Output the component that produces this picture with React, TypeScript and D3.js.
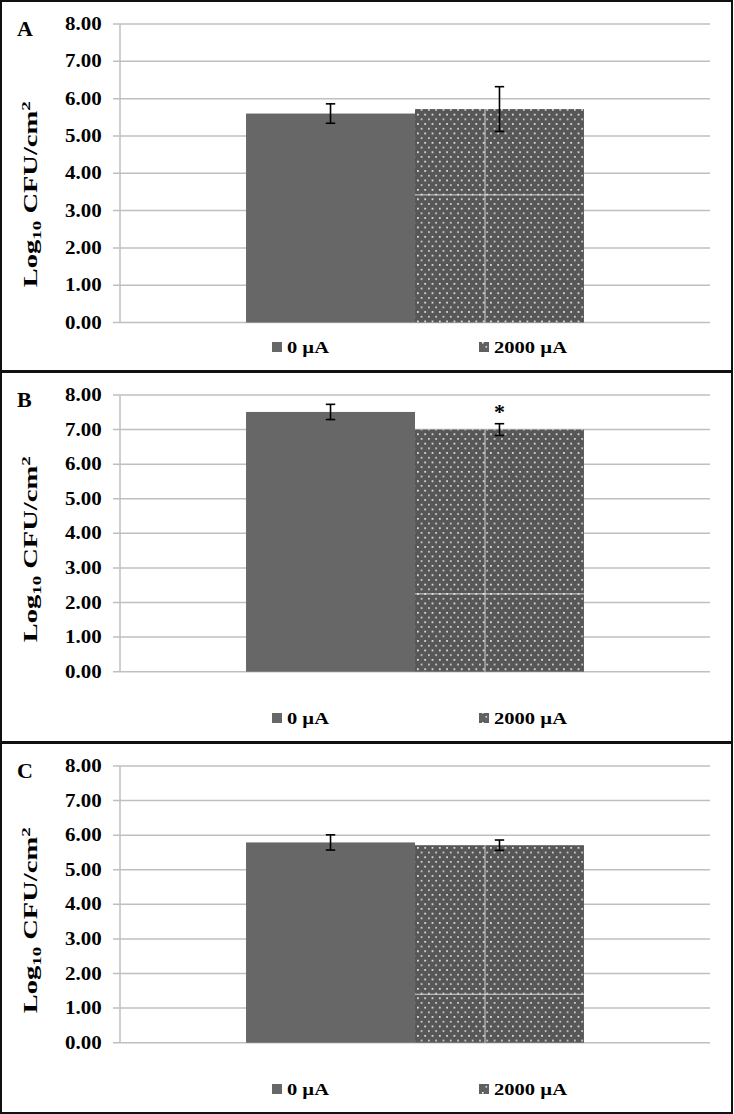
import React from "react";
import * as d3 from "d3";

const panelLabels = ["A", "B", "C"];
const seriesNames = ["0 µA", "2000 µA"];
const meansA = [5.6, 5.72];
const errsA = [0.26, 0.6];
const meansB = [7.51, 7.0];
const errsB = [0.22, 0.17];
const meansC = [5.79, 5.71];
const errsC = [0.22, 0.15];
const sigA = ["", ""];
const sigB = ["", "*"];
const sigC = ["", ""];
const yTicks = [0, 1, 2, 3, 4, 5, 6, 7, 8];
const seamValues = [3.42, 2.25, 1.4];

const W = 734;
const H = 1114;
const FONT = "Liberation Serif";

const panels = [
  { label: panelLabels[0], means: meansA, errs: errsA, sig: sigA, seam: seamValues[0] },
  { label: panelLabels[1], means: meansB, errs: errsB, sig: sigB, seam: seamValues[1] },
  { label: panelLabels[2], means: meansC, errs: errsC, sig: sigC, seam: seamValues[2] },
];

const PLOT_L = 120;
const PLOT_R = 710;
const legendWidths = [42, 73];

function Panel({ p, i }: { p: any; i: number }) {
  const top = i * 371;
  const plotTop = top + 24;
  const plotBottom = top + (i === 0 ? 322.5 : 300.7);
  const y = d3.scaleLinear().domain([0, 8]).range([plotBottom, plotTop]);
  const cat = d3.scaleBand().domain(["c"]).range([PLOT_L, PLOT_R]).paddingOuter(0.373).paddingInner(0);
  const x0 = cat("c") as number;
  const xs = d3.scaleBand().domain(seriesNames).range([x0, x0 + cat.bandwidth()]).padding(0);
  const bw = xs.bandwidth();
  const legendY = top + 347;
  const titleCY = (plotTop + plotBottom) / 2 + (i === 0 ? 21 : 16);
  const legendX = [272, 479];
  return (
    <g>
      <rect x={1} y={top + 1} width={731} height={370} fill="none" stroke="#111" strokeWidth={2} />
      <text x={17} y={top + 36} fontFamily={FONT} fontWeight="bold" fontSize={22} fill="#000">
        {p.label}
      </text>
      {yTicks.map((t) => (
        <g key={t}>
          <line x1={PLOT_L - 7} x2={PLOT_R} y1={y(t)} y2={y(t)} stroke="#bfbfbf" strokeWidth={1.5} />
          <text
            x={65}
            y={y(t) + 6}
            textLength={36.7}
            lengthAdjust="spacingAndGlyphs"
            fontFamily={FONT}
            fontWeight="bold"
            fontSize={18}
            fill="#000"
          >
            {d3.format(".2f")(t)}
          </text>
        </g>
      ))}
      <line x1={PLOT_L} x2={PLOT_L} y1={plotTop} y2={plotBottom} stroke="#bfbfbf" strokeWidth={1.5} />
      <g transform={`translate(37,${titleCY})rotate(-90)`}>
        <text
          x={-93}
          textLength={186}
          lengthAdjust="spacingAndGlyphs"
          fontFamily={FONT}
          fontWeight="bold"
          fontSize={18}
          fill="#000"
        >
          Log
          <tspan fontSize={12} dy={4}>10</tspan>
          <tspan dy={-4}> CFU/cm</tspan>
          <tspan fontSize={12} dy={-7}>2</tspan>
        </text>
      </g>
      {seriesNames.map((s, k) => {
        const bx = xs(s) as number;
        const v = p.means[k];
        const e = p.errs[k];
        const cx = bx + bw / 2;
        return (
          <g key={s}>
            <rect x={bx} y={y(v)} width={bw} height={y(0) - y(v)} fill={k === 0 ? "#676767" : "url(#dots)"} />
            {k === 1 && (
              <g stroke="#ffffff" strokeOpacity={0.75} strokeWidth={1}>
                <line x1={bx + 70} x2={bx + 70} y1={y(v)} y2={y(0)} />
                <line x1={bx} x2={bx + bw} y1={y(p.seam)} y2={y(p.seam)} />
              </g>
            )}
            <g stroke="#000" strokeWidth={1.6}>
              <line x1={cx} x2={cx} y1={y(v + e)} y2={y(v - e)} />
              <line x1={cx - 4.7} x2={cx + 4.7} y1={y(v + e)} y2={y(v + e)} />
              <line x1={cx - 4.7} x2={cx + 4.7} y1={y(v - e)} y2={y(v - e)} />
            </g>
            {p.sig[k] && (
              <text x={cx} y={y(v + e) - 5} textAnchor="middle" fontFamily={FONT} fontWeight="bold" fontSize={22} fill="#000">
                {p.sig[k]}
              </text>
            )}
          </g>
        );
      })}
      {seriesNames.map((s, k) => (
        <g key={"lg" + s}>
          <rect x={legendX[k]} y={legendY - 5} width={10} height={10} fill={k === 0 ? "#676767" : "url(#dotsLegend)"} />
          <text
            x={legendX[k] + 15}
            y={legendY + 6}
            textLength={legendWidths[k]}
            lengthAdjust="spacingAndGlyphs"
            fontFamily={FONT}
            fontWeight="bold"
            fontSize={16.5}
            fill="#000"
          >
            {s}
          </text>
        </g>
      ))}
    </g>
  );
}

export default function App() {
  return (
    <svg width={W} height={H} style={{ position: "absolute", left: 0, top: 0, display: "block", background: "#fff" }}>
      <defs>
        <pattern id="dots" patternUnits="userSpaceOnUse" width={7.3} height={9.4}>
          <rect width={7.3} height={9.4} fill="#575757" />
          <rect x={1} y={1} width={1.6} height={1.6} fill="#ffffff" />
          <rect x={4.65} y={5.7} width={1.6} height={1.6} fill="#e8e8e8" />
        </pattern>
        <pattern id="dotsLegend" patternUnits="userSpaceOnUse" width={10} height={10}>
          <rect width={10} height={10} fill="#606060" />
          <rect x={2} y={2} width={1.6} height={1.6} fill="#fff" />
          <rect x={5.5} y={6} width={1.6} height={1.6} fill="#ddd" />
        </pattern>
      </defs>
      <rect width={W} height={H} fill="#fff" />
      {panels.map((p, i) => (
        <Panel key={p.label} p={p} i={i} />
      ))}
    </svg>
  );
}
